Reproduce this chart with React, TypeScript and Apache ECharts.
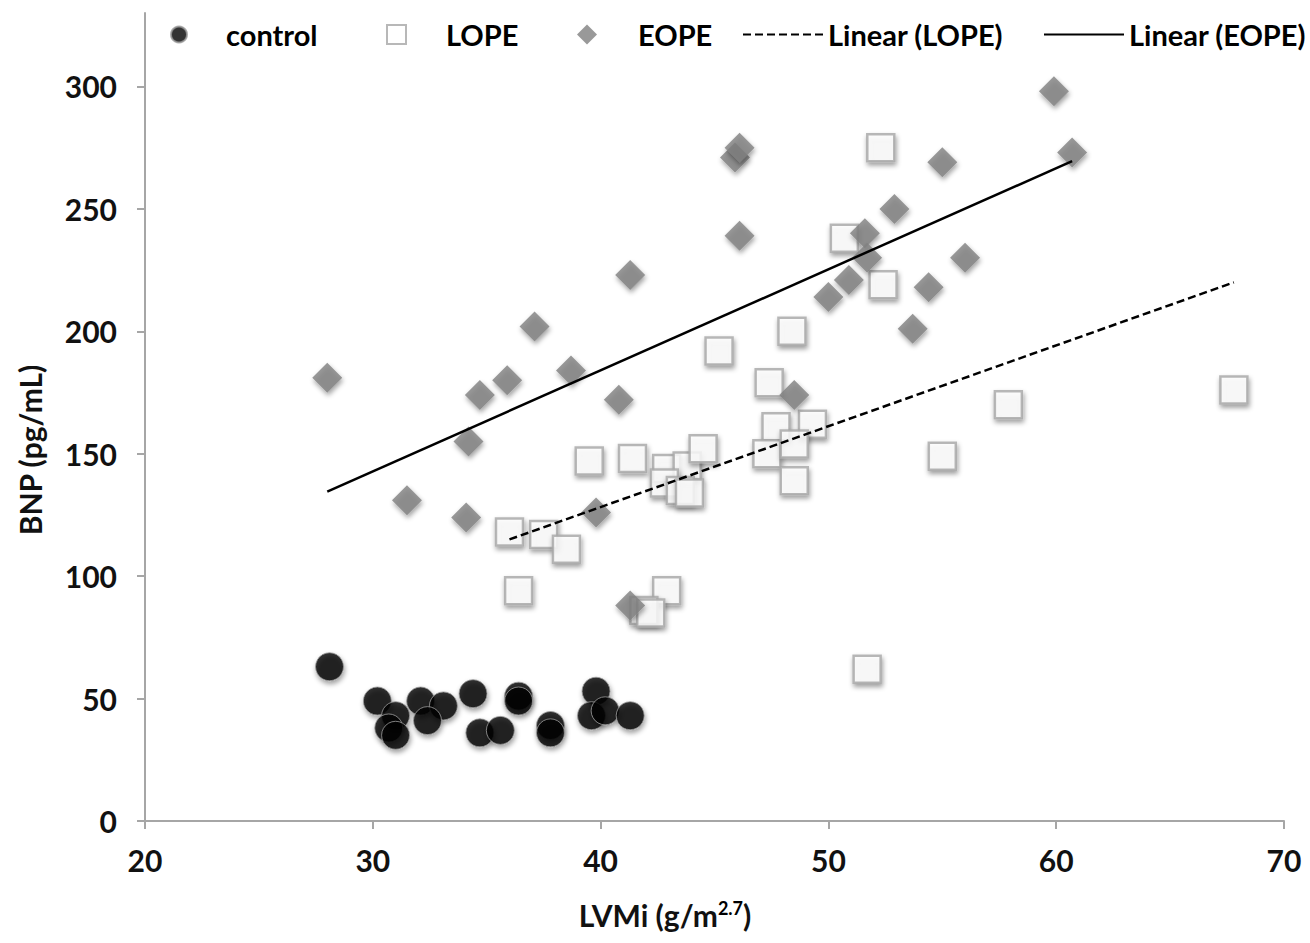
import React, { useEffect, useRef } from 'react';
import * as echarts from 'echarts';

const FONT = 'Lato, "Open Sans", sans-serif';

// x axis ticks / y axis ticks
const xTicks = [20, 30, 40, 50, 60, 70];
const yTicks = [0, 50, 100, 150, 200, 250, 300];

// control group
const controlX = [28.1, 30.2, 31.0, 30.7, 31.0, 32.1, 33.1, 32.4, 34.4, 34.7, 35.6, 36.4, 36.4, 37.8, 37.8, 39.8, 39.6, 40.2, 41.3];
const controlY = [63, 49, 43, 38, 35, 49, 47, 41, 52, 36, 37, 51, 49, 39, 36, 53, 43, 45, 43];

// LOPE group
const lopeX = [36.0, 36.4, 37.5, 38.5, 39.5, 41.4, 42.9, 43.8, 42.8, 43.5, 43.9, 44.5, 42.9, 41.9, 42.2, 45.2, 47.4, 47.7, 49.3, 47.3, 48.5, 48.5, 48.4, 50.7, 52.3, 52.4, 55.0, 57.9, 51.7, 67.8];
const lopeY = [118, 94, 117, 111, 147, 148, 144, 145, 138, 135, 134, 152, 94, 86, 85, 192, 179, 161, 162, 150, 154, 139, 200, 238, 275, 219, 149, 170, 62, 176];

// EOPE group
const eopeX = [28.0, 31.5, 34.1, 34.2, 34.7, 35.9, 37.1, 38.7, 39.8, 40.8, 41.3, 41.3, 45.9, 46.1, 46.1, 48.5, 50.0, 50.9, 51.6, 51.7, 52.9, 54.4, 53.7, 55.0, 56.0, 59.9, 60.7];
const eopeY = [181, 131, 124, 155, 174, 180, 202, 184, 126, 172, 223, 88, 271, 275, 239, 174, 214, 221, 240, 230, 250, 218, 201, 269, 230, 298, 273];

// trend lines (endpoints)
const lopeTrendX = [36.0, 67.8];
const lopeTrendY = [115, 220];
const eopeTrendX = [28.0, 60.7];
const eopeTrendY = [134.5, 269.5];

const zip = (xs: number[], ys: number[]) => xs.map((x, i) => [x, ys[i]]);

const shadow = {
  shadowBlur: 5,
  shadowOffsetX: 1,
  shadowOffsetY: 3,
  shadowColor: 'rgba(0,0,0,0.45)',
};

const labelStyle = { fontFamily: FONT, fontWeight: 'bold' as const, fontSize: 30, color: '#111' };
const axisColor = '#a6a6a6';
const hidden = 'rgba(0,0,0,0)';

function legendFor(name: string, left: number, itemWidth: number, itemHeight: number, padLeft: number, isLine = false) {
  const l: any = {
    data: [name],
    left,
    top: 20,
    padding: 0,
    itemWidth,
    itemHeight,
    selectedMode: false,
    textStyle: { ...labelStyle, fontSize: 29, color: '#000', padding: [0, 0, 0, padLeft] },
  };
  if (isLine) {
    l.itemStyle = { color: hidden, borderColor: hidden, borderWidth: 0, shadowBlur: 0, opacity: 0 };
  }
  return l;
}

export default function App() {
  const ref = useRef<HTMLDivElement>(null);
  useEffect(() => {
    document.body.style.margin = '0';
    const chart = echarts.init(ref.current!, null, { renderer: 'svg' });
    chart.setOption({
      animation: false,
      backgroundColor: '#fff',
      grid: { left: 145, right: 26, top: 13, bottom: 122, containLabel: false },
      legend: [
        legendFor('control', 170, 16, 16, 34),
        legendFor('LOPE', 386, 19, 19, 35),
        legendFor('EOPE', 577, 20, 20, 36),
        legendFor('Linear (LOPE)', 742, 80, 14, 0, true),
        legendFor('Linear (EOPE)', 1043, 80, 14, 0, true),
      ],
      xAxis: {
        type: 'value',
        min: xTicks[0],
        max: xTicks[xTicks.length - 1],
        interval: 10,
        axisLine: { show: true, lineStyle: { color: axisColor, width: 2 } },
        axisTick: { show: true, length: 8, lineStyle: { color: axisColor, width: 2 } },
        splitLine: { show: false },
        axisLabel: { ...labelStyle, margin: 24 },
      },
      yAxis: {
        type: 'value',
        min: 0,
        max: 330,
        interval: 50,
        axisLine: { show: true, lineStyle: { color: axisColor, width: 2 } },
        axisTick: { show: true, length: 8, lineStyle: { color: axisColor, width: 2 }, customValues: yTicks },
        splitLine: { show: false },
        axisLabel: { ...labelStyle, margin: 28, customValues: yTicks },
      },
      graphic: [
        {
          type: 'text',
          x: 30,
          y: 450,
          rotation: Math.PI / 2,
          style: {
            text: 'BNP (pg/mL)',
            font: `bold 30px ${FONT}`,
            fill: '#111',
            align: 'center',
            verticalAlign: 'middle',
          },
        },
        {
          type: 'text',
          x: 665,
          y: 915,
          style: {
            text: '{a|LVMi (g/m}{s|2.7}{a|)}',
            align: 'center',
            verticalAlign: 'middle',
            rich: {
              a: { fontFamily: FONT, fontWeight: 'bold', fontSize: 30, fill: '#111', color: '#111' },
              s: { fontFamily: FONT, fontWeight: 'bold', fontSize: 18, color: '#111', verticalAlign: 'bottom', padding: [0, 0, 14, 0] },
            },
          },
        },
      ],
      series: [
        {
          name: 'control',
          type: 'scatter',
          symbol: 'circle',
          symbolSize: 28,
          data: zip(controlX, controlY),
          itemStyle: { color: '#000', borderColor: '#9a9a9a', borderWidth: 1, ...shadow },
        },
        {
          name: 'LOPE',
          type: 'scatter',
          symbol: 'rect',
          symbolSize: 27,
          data: zip(lopeX, lopeY),
          itemStyle: { color: '#fff', borderColor: '#a6a6a6', borderWidth: 2.5, ...shadow },
        },
        {
          name: 'EOPE',
          type: 'scatter',
          symbol: 'diamond',
          symbolSize: 30,
          data: zip(eopeX, eopeY),
          itemStyle: { color: '#7f7f7f', ...shadow },
        },
        {
          name: 'Linear (LOPE)',
          type: 'line',
          symbol: 'none',
          data: zip(lopeTrendX, lopeTrendY),
          lineStyle: { color: '#000', width: 2.5, type: [8, 4] },
          itemStyle: { color: '#000' },
          z: 5,
        },
        {
          name: 'Linear (EOPE)',
          type: 'line',
          symbol: 'none',
          data: zip(eopeTrendX, eopeTrendY),
          lineStyle: { color: '#000', width: 2.5, type: 'solid' },
          itemStyle: { color: '#000' },
          z: 5,
        },
      ],
    });
    return () => chart.dispose();
  }, []);
  return <div ref={ref} style={{ width: 1310, height: 943 }} />;
}
